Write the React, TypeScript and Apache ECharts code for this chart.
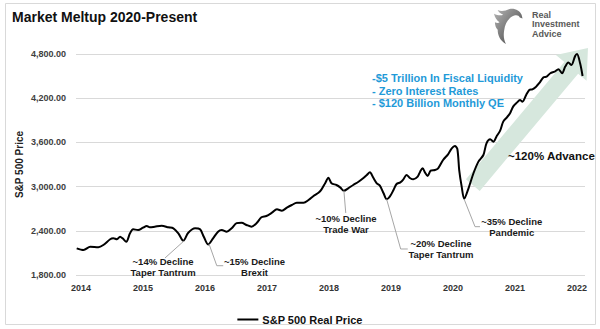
import React, { useEffect, useRef } from "react";
import * as echarts from "echarts";

// ---- data (decimal year, real price) ----
const years = [
  2013.93, 2014.04, 2014.15, 2014.28, 2014.36, 2014.47, 2014.52, 2014.58, 2014.63, 2014.67,
  2014.73, 2014.79, 2014.84, 2014.92, 2015.0, 2015.06, 2015.11, 2015.19, 2015.3, 2015.41,
  2015.49, 2015.57, 2015.65, 2015.73, 2015.84, 2015.92, 2015.98, 2016.05, 2016.13, 2016.21,
  2016.27, 2016.35, 2016.43, 2016.51, 2016.59, 2016.67, 2016.75, 2016.83, 2016.91, 2016.99,
  2017.08, 2017.16, 2017.24, 2017.32, 2017.4, 2017.48, 2017.59, 2017.67, 2017.75, 2017.83,
  2017.88, 2017.94, 2017.99, 2018.04, 2018.12, 2018.18, 2018.24, 2018.31, 2018.39, 2018.47,
  2018.55, 2018.61, 2018.66, 2018.71, 2018.77, 2018.82, 2018.88, 2018.93, 2018.98, 2019.04,
  2019.09, 2019.15, 2019.2, 2019.25, 2019.31, 2019.36, 2019.43, 2019.47, 2019.51, 2019.55,
  2019.59, 2019.64, 2019.71, 2019.76, 2019.84, 2019.92, 2019.98, 2020.03, 2020.07, 2020.1,
  2020.14, 2020.18, 2020.25, 2020.33, 2020.41, 2020.49, 2020.54, 2020.6, 2020.65, 2020.7,
  2020.76, 2020.81, 2020.87, 2020.92, 2020.97, 2021.03, 2021.08, 2021.12, 2021.18, 2021.23,
  2021.28, 2021.34, 2021.39, 2021.46, 2021.51, 2021.57, 2021.64, 2021.7, 2021.76, 2021.81,
  2021.86, 2021.91, 2021.97, 2022.0, 2022.05, 2022.09,
];
const prices = [
  2162, 2139, 2184, 2176, 2207, 2285, 2298, 2285, 2320, 2298,
  2252, 2366, 2420, 2411, 2442, 2465, 2447, 2456, 2469, 2447,
  2434, 2366, 2266, 2374, 2434, 2420, 2320, 2215, 2298, 2388,
  2411, 2388, 2434, 2504, 2510, 2479, 2456, 2502, 2583, 2601,
  2646, 2692, 2673, 2714, 2750, 2781, 2781, 2818, 2872, 2917,
  2963, 3050, 3121, 3045, 3022, 2990, 2944, 2977, 3022, 3062,
  3113, 3158, 3194, 3126, 3045, 3013, 2909, 2828, 2863, 2954,
  3035, 3058, 3099, 3158, 3113, 3099, 3135, 3203, 3248, 3189,
  3144, 3216, 3225, 3248, 3361, 3438, 3520, 3551, 3510, 3225,
  2999, 2835, 2977, 3181, 3339, 3429, 3588, 3642, 3610, 3678,
  3760, 3882, 3941, 3996, 4086, 4140, 4176, 4153, 4244, 4312,
  4321, 4357, 4403, 4484, 4493, 4539, 4561, 4594, 4539, 4629,
  4683, 4651, 4773, 4800, 4674, 4501,
];
const yearTicks = [2014, 2015, 2016, 2017, 2018, 2019, 2020, 2021, 2022];
const yMin = 1800;
const yMax = 4800;
const yStep = 600;

const seriesName = "S&P 500 Real Price";
const titleText = "Market Meltup 2020-Present";
const yAxisName = "S&P 500 Price";
const blueNotes = ["-$5 Trillion In Fiscal Liquidity", "- Zero Interest Rates", "- $120 Billion Monthly QE"];
const advanceText = "~120% Advance";
const logoLines = ["Real", "Investment", "Advice"];

// annotation: leader path (data coords) + label position (data coords)
const annotationTexts = [
  "~14% Decline\nTaper Tantrum",
  "~15% Decline\nBrexit",
  "~10% Decline\nTrade War",
  "~20% Decline\nTaper Tantrum",
  "~35% Decline\nPandemic",
];
const annotationPaths: number[][][] = [
  [[2015.66, 2262], [2015.355, 2031]],
  [[2016.065, 2221], [2016.19, 1926], [2016.294, 1926]],
  [[2018.24, 2944], [2018.27, 2642]],
  [[2018.93, 2828], [2019.156, 2153], [2019.27, 2153]],
  [[2020.18, 2828], [2020.355, 2456], [2020.435, 2456]],
];
const annotationAt: number[][] = [
  [2015.323, 1915],
  [2016.798, 1913],
  [2018.274, 2495],
  [2019.806, 2156],
  [2020.947, 2447],
];
// trend arrow: tail -> tip (data coords)
const arrowTail = [2020.32, 3020];
const arrowTip = [2022.177, 4882];

const FONT = "'Liberation Sans', Arial, Helvetica, sans-serif";

const EAGLE_D =
  "M17 1 C23 0 28 3 30 7 L31 11 L28 10 C27 8 25 7 22 8 C16 10 12 16 11 24 C10 30 11 34 13 38 C7 35 4 29 4 23 C2 21 1 18 1 15 C3 16 5 16 6 15 C3 13 1 10 0 6 C4 8 8 8 10 7 C7 6 5 4 4 2 C8 4 12 3 17 1 Z";

let shapeRegistered = false;
function ensureShape() {
  if (shapeRegistered) return;
  echarts.graphic.registerShape("eagle", echarts.graphic.extendPath(EAGLE_D as any, {}) as any);
  shapeRegistered = true;
}

export default function App() {
  const ref = useRef<HTMLDivElement>(null);
  useEffect(() => {
    if (!ref.current) return;
    ensureShape();
    const chart = echarts.init(ref.current, null, { renderer: "svg" });
    const lineData = years.map((y, i) => [y, prices[i]]);

    const option: any = {
      animation: false,
      backgroundColor: "#ffffff",
      title: {
        text: titleText,
        left: 7,
        top: 5,
        textStyle: { fontFamily: FONT, fontSize: 14, fontWeight: "bold", color: "#111" },
      },
      legend: {
        data: [{ name: seriesName, icon: "rect" }],
        left: "center",
        top: 309,
        itemWidth: 21,
        itemHeight: 2,
        itemGap: 4,
        itemStyle: { color: "#000" },
        textStyle: { fontFamily: FONT, fontSize: 11, fontWeight: "bold", color: "#111", padding: [0, 0, 0, -1] },
      },
      grid: { left: 76, right: 15, top: 54, bottom: 54 },
      xAxis: {
        type: "value",
        min: 2013.919,
        max: 2022.129,
        axisLine: { show: false },
        axisTick: { show: false },
        splitLine: { show: false },
        axisLabel: {
          customValues: yearTicks,
          formatter: (v: number) => String(Math.round(v)),
          fontFamily: FONT,
          fontSize: 9,
          fontWeight: "bold",
          color: "#333",
          margin: 8,
        },
      },
      yAxis: {
        type: "value",
        min: yMin,
        max: yMax,
        interval: yStep,
        name: yAxisName,
        nameLocation: "middle",
        nameGap: 52,
        nameMoveOverlap: false,
        nameTextStyle: { fontFamily: FONT, fontSize: 10, fontWeight: "bold", color: "#222" },
        axisLine: { show: false },
        axisTick: { show: false },
        splitLine: { lineStyle: { color: "#d9d9d9", width: 1 } },
        axisLabel: {
          formatter: (v: number) =>
            v.toLocaleString("en-US", { minimumFractionDigits: 2, maximumFractionDigits: 2 }),
          fontFamily: FONT,
          fontSize: 9,
          fontWeight: "bold",
          color: "#404040",
          margin: 10,
        },
      },
      series: [
        {
          type: "custom",
          name: "arrow",
          silent: true,
          clip: false,
          z: 1,
          data: [[arrowTail[0], arrowTail[1], arrowTip[0], arrowTip[1]]],
          renderItem: (params: any, api: any) => {
            const t = api.coord([arrowTail[0], arrowTail[1]]);
            const h = api.coord([arrowTip[0], arrowTip[1]]);
            const dx = h[0] - t[0];
            const dy = h[1] - t[1];
            const len = Math.sqrt(dx * dx + dy * dy);
            const ux = dx / len, uy = dy / len;
            const px = -uy, py = ux;
            const sw = 9, hw = 20, hl = 26;
            const bx = h[0] - ux * hl, by = h[1] - uy * hl;
            const pts = [
              [t[0] + px * sw, t[1] + py * sw],
              [bx + px * sw, by + py * sw],
              [bx + px * hw, by + py * hw],
              [h[0], h[1]],
              [bx - px * hw, by - py * hw],
              [bx - px * sw, by - py * sw],
              [t[0] - px * sw, t[1] - py * sw],
            ];
            return {
              type: "polygon",
              shape: { points: pts },
              style: { fill: "#d6e7dd", stroke: null },
            };
          },
        },
        {
          type: "line",
          name: seriesName,
          data: lineData,
          showSymbol: false,
          symbol: "none",
          smooth: 0.3,
          z: 3,
          lineStyle: { color: "#000", width: 2 },
          itemStyle: { color: "#000" },
        },
        {
          type: "custom",
          name: "annotations",
          silent: true,
          clip: false,
          z: 4,
          data: annotationAt.map((a) => [a[0], a[1]]),
          renderItem: (params: any, api: any) => {
            const i = params.dataIndex;
            const pts = annotationPaths[i].map((p) => api.coord(p));
            const c = api.coord(annotationAt[i]);
            return {
              type: "group",
              children: [
                {
                  type: "polyline",
                  shape: { points: pts },
                  style: { stroke: "#a6a6a6", lineWidth: 1, fill: null },
                },
                {
                  type: "text",
                  x: c[0],
                  y: c[1],
                  style: {
                    text: annotationTexts[i],
                    fill: "#1a1a1a",
                    font: `bold 9.5px ${FONT}`,
                    align: "center",
                    verticalAlign: "middle",
                    textAlign: "center",
                    textVerticalAlign: "middle",
                    lineHeight: 11,
                  },
                },
              ],
            };
          },
        },
      ],
      graphic: [
        {
          type: "rect",
          silent: true,
          z: 0,
          shape: { x: 5.5, y: 3.5, width: 590, height: 321 },
          style: { fill: "none", stroke: "#d9d9d9", lineWidth: 1 },
        },
        {
          type: "text",
          left: 372,
          top: 72,
          z: 10,
          style: {
            text: blueNotes.join("\n"),
            fill: "#1f9ad8",
            font: `bold 11px ${FONT}`,
            lineHeight: 12.5,
          },
        },
        {
          type: "text",
          left: 508,
          top: 150,
          z: 10,
          style: {
            text: advanceText,
            fill: "#111",
            font: `bold 11.5px ${FONT}`,
          },
        },
        {
          type: "eagle",
          x: 494,
          y: 8,
          scaleX: 0.92,
          scaleY: 0.95,
          z: 10,
          style: {
            fill: new echarts.graphic.LinearGradient(0, 0, 1, 1, [
              { offset: 0, color: "#b5b5b5" },
              { offset: 1, color: "#3d3d3d" },
            ]),
          },
        },
        {
          type: "text",
          left: 532,
          top: 10,
          z: 10,
          style: {
            text: logoLines.join("\n"),
            fill: "#595959",
            font: `bold 9px ${FONT}`,
            lineHeight: 9.5,
          },
        },
      ],
    };
    chart.setOption(option);
    return () => chart.dispose();
  }, []);
  return (
    <div
      ref={ref}
      style={{ position: "fixed", left: 0, top: 0, width: 600, height: 329 }}
    />
  );
}
